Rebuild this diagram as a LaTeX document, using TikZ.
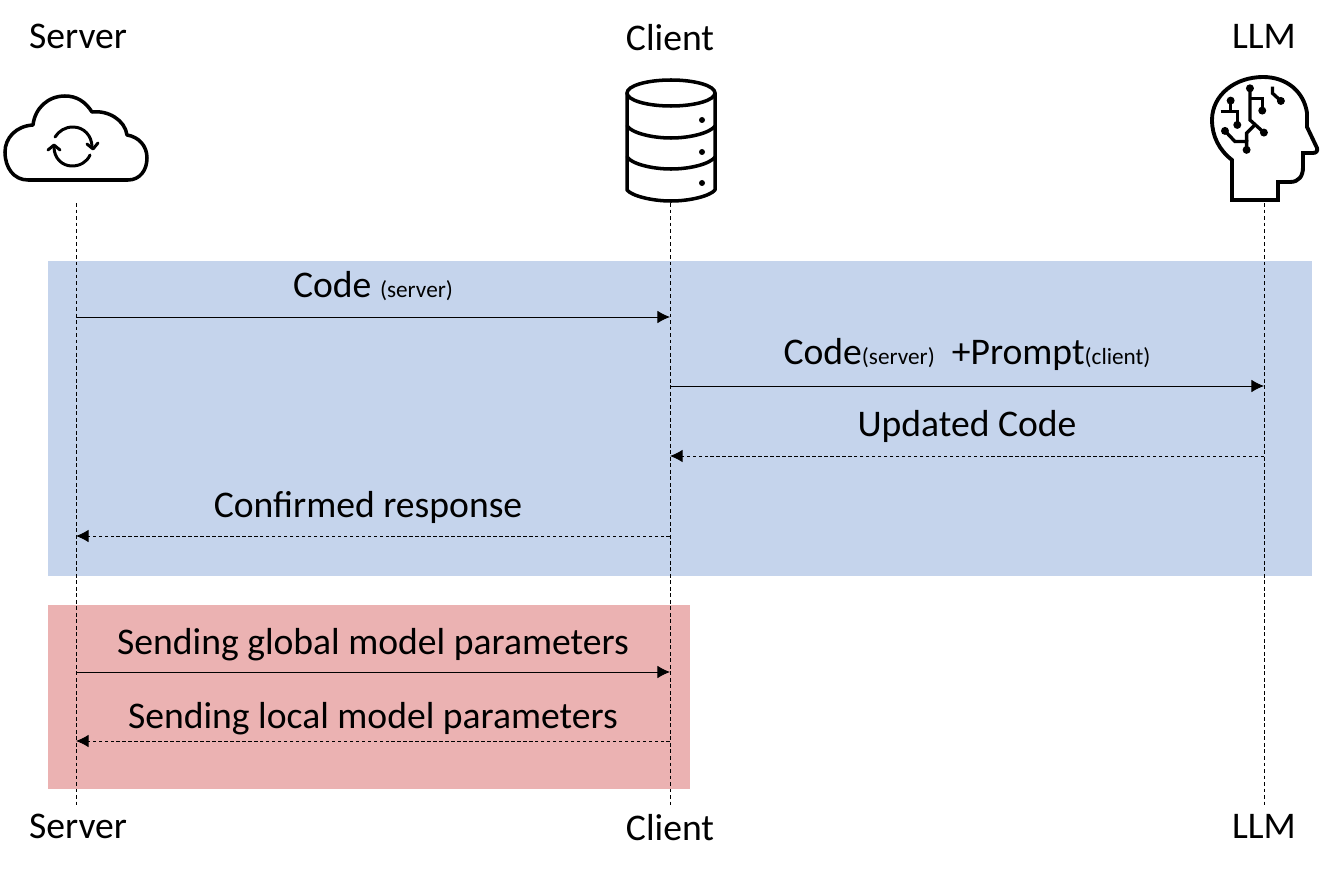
\documentclass[tikz,border=0pt]{standalone}
\usepackage{fontspec}
\setmainfont{Carlito}
\usetikzlibrary{arrows.meta}

\definecolor{bandblue}{HTML}{C5D4EC}
\definecolor{bandred}{HTML}{EBB2B2}

\newcommand{\subtext}[1]{{\fontsize{6.6}{7}\selectfont #1}}

\tikzset{
	label text/.style={inner sep=0pt, font=\fontsize{10.7}{12}\selectfont},
	lifeline/.style={line width=0.28pt, dash pattern=on 1.1pt off 0.75pt},
	call/.style={line width=0.25pt, -{Latex[length=3.6pt,width=3.6pt]}},
	reply/.style={line width=0.25pt, dash pattern=on 1pt off 0.7pt, -{Latex[length=3.6pt,width=3.6pt]}},
	icon/.style={line width=1pt, line join=round, line cap=round},
	thin icon/.style={icon, line width=0.85pt},
	wire/.style={icon, line width=0.95pt, line cap=butt, line join=miter},
}

\begin{document}
\begin{tikzpicture}[x=0.01cm, y=-0.01cm]

	\useasboundingbox (0,0) rectangle (1340,873);

	\fill [bandblue] (48,261) rectangle (1312,576);
	\fill [bandred] (48,605) rectangle (690,789);

	\node [label text] (S0) at (78,36) {Server};
	\node [label text] (C0) at (670,38) {Client};
	\node [label text] (L0) at (1264,36) {LLM};
	\node [label text] (S9) at (78,826) {Server};
	\node [label text] (C9) at (670,828) {Client};
	\node [label text] (L9) at (1264,826) {LLM};

	\coordinate (Stop) at (76,203);
	\coordinate (Ctop) at (670,203);
	\coordinate (Ltop) at (1264,203);
	\coordinate (Sbot) at (76,806);
	\coordinate (Cbot) at (670,808);
	\coordinate (Lbot) at (1264,806);

	\draw [lifeline] (Stop) -- (Sbot);
	\draw [lifeline] (Ctop) -- (Cbot);
	\draw [lifeline] (Ltop) -- (Lbot);

	\coordinate (S1) at (76,317);
	\coordinate (C1) at (670,317);
	\coordinate (C2) at (670,386);
	\coordinate (L2) at (1264,386);
	\coordinate (L3) at (1264,456);
	\coordinate (C3) at (670,456);
	\coordinate (C4) at (670,536);
	\coordinate (S4) at (76,536);
	\coordinate (S5) at (76,672);
	\coordinate (C5) at (670,672);
	\coordinate (C6) at (670,741);
	\coordinate (S6) at (76,741);

	\draw [call] (S1) -- (C1);
	\draw [call] (C2) -- (L2);
	\draw [reply] (L3) -- (C3);
	\draw [reply] (C4) -- (S4);
	\draw [call] (S5) -- (C5);
	\draw [reply] (C6) -- (S6);

	\node [label text] (code) at (373,286) {Code \subtext{(server)}};
	\node [label text] (prompt) at (967,354) {Code\subtext{(server)}\ \ +Prompt\subtext{(client)}};
	\node [label text] (updated) at (967,426) {Updated Code};
	\node [label text] (confirmed) at (368,507) {Confirmed response};
	\node [label text] (global) at (373,645) {Sending global model parameters};
	\node [label text] (local) at (373,719) {Sending local model parameters};

	% cloud
	\draw [icon] (28,180) -- (128,180)
		.. controls (140,180) and (147,170) .. (147,158)
		.. controls (147,146) and (139,137) .. (127,135)
		.. controls (125,120) and (108,110) .. (92,112)
		.. controls (85,101) and (76,96) .. (65,96)
		.. controls (48,96) and (35,108) .. (33,125)
		.. controls (16,126) and (5,138) .. (5,152)
		.. controls (5,168) and (14,180) .. (28,180) -- cycle;
	\draw [thin icon] (55,137) .. controls (59,131) and (65,127) .. (73,127)
		.. controls (84,127) and (92,136) .. (92,147);
	\draw [thin icon] (90,155) .. controls (87,162) and (80,166) .. (72,166)
		.. controls (62,166) and (54,158) .. (54,147);
	\draw [thin icon] (87,144) -- (93,149) -- (98,143);
	\draw [thin icon] (48,150) -- (54,145) -- (60,150);

	% database
	\draw [icon] (671,93) ellipse (44 and 13);
	\draw [icon] (627,93) -- (627,190)
		.. controls (632,196) and (652,201) .. (671,201)
		.. controls (690,201) and (710,196) .. (715,190) -- (715,93);
	\draw [icon] (627,126) .. controls (632,133) and (652,138) .. (671,138)
		.. controls (690,138) and (710,133) .. (715,126);
	\draw [icon] (627,157) .. controls (632,164) and (652,169) .. (671,169)
		.. controls (690,169) and (710,164) .. (715,157);
	\foreach \point in {120,152,183} \fill (702,\point) circle (3);

	% head
	\draw [icon, line width=1.1pt, line join=miter] (1232,200) -- (1232,160)
		.. controls (1219,150) and (1212,136) .. (1212,120)
		.. controls (1212,95) and (1235,77) .. (1263,77)
		.. controls (1287,77) and (1304,92) .. (1307,113)
		-- (1307,127) -- (1317,148)
		.. controls (1318,151) and (1316,153) .. (1313,153)
		-- (1303,153) -- (1303,167)
		.. controls (1303,176) and (1299,182) .. (1290,182)
		-- (1278,182) -- (1278,200) -- cycle;
	\begin{scope} [shift={(1200,70)}, x=0.00333cm, y=-0.00333cm]
	\draw [wire] (92,92) -- (92,125);
	\draw [wire] (62,125) -- (112,125) -- (112,165);
	\draw [wire] (150,55) -- (150,150) -- (192,188);
	\draw [wire] (150,85) -- (187,85) -- (187,122);
	\draw [wire] (75,183) -- (105,215) -- (140,215) -- (140,240);
	\draw [wire] (140,215) -- (140,190) -- (165,165);
	\draw [wire] (218,50) -- (218,70) -- (243,93);
	\foreach \x/\y in {92/92,112/165,150/55,192/188,187/122,75/183,140/240,243/93}
		\fill (\x,\y) circle (12);
	\end{scope}

\end{tikzpicture}
\end{document}
